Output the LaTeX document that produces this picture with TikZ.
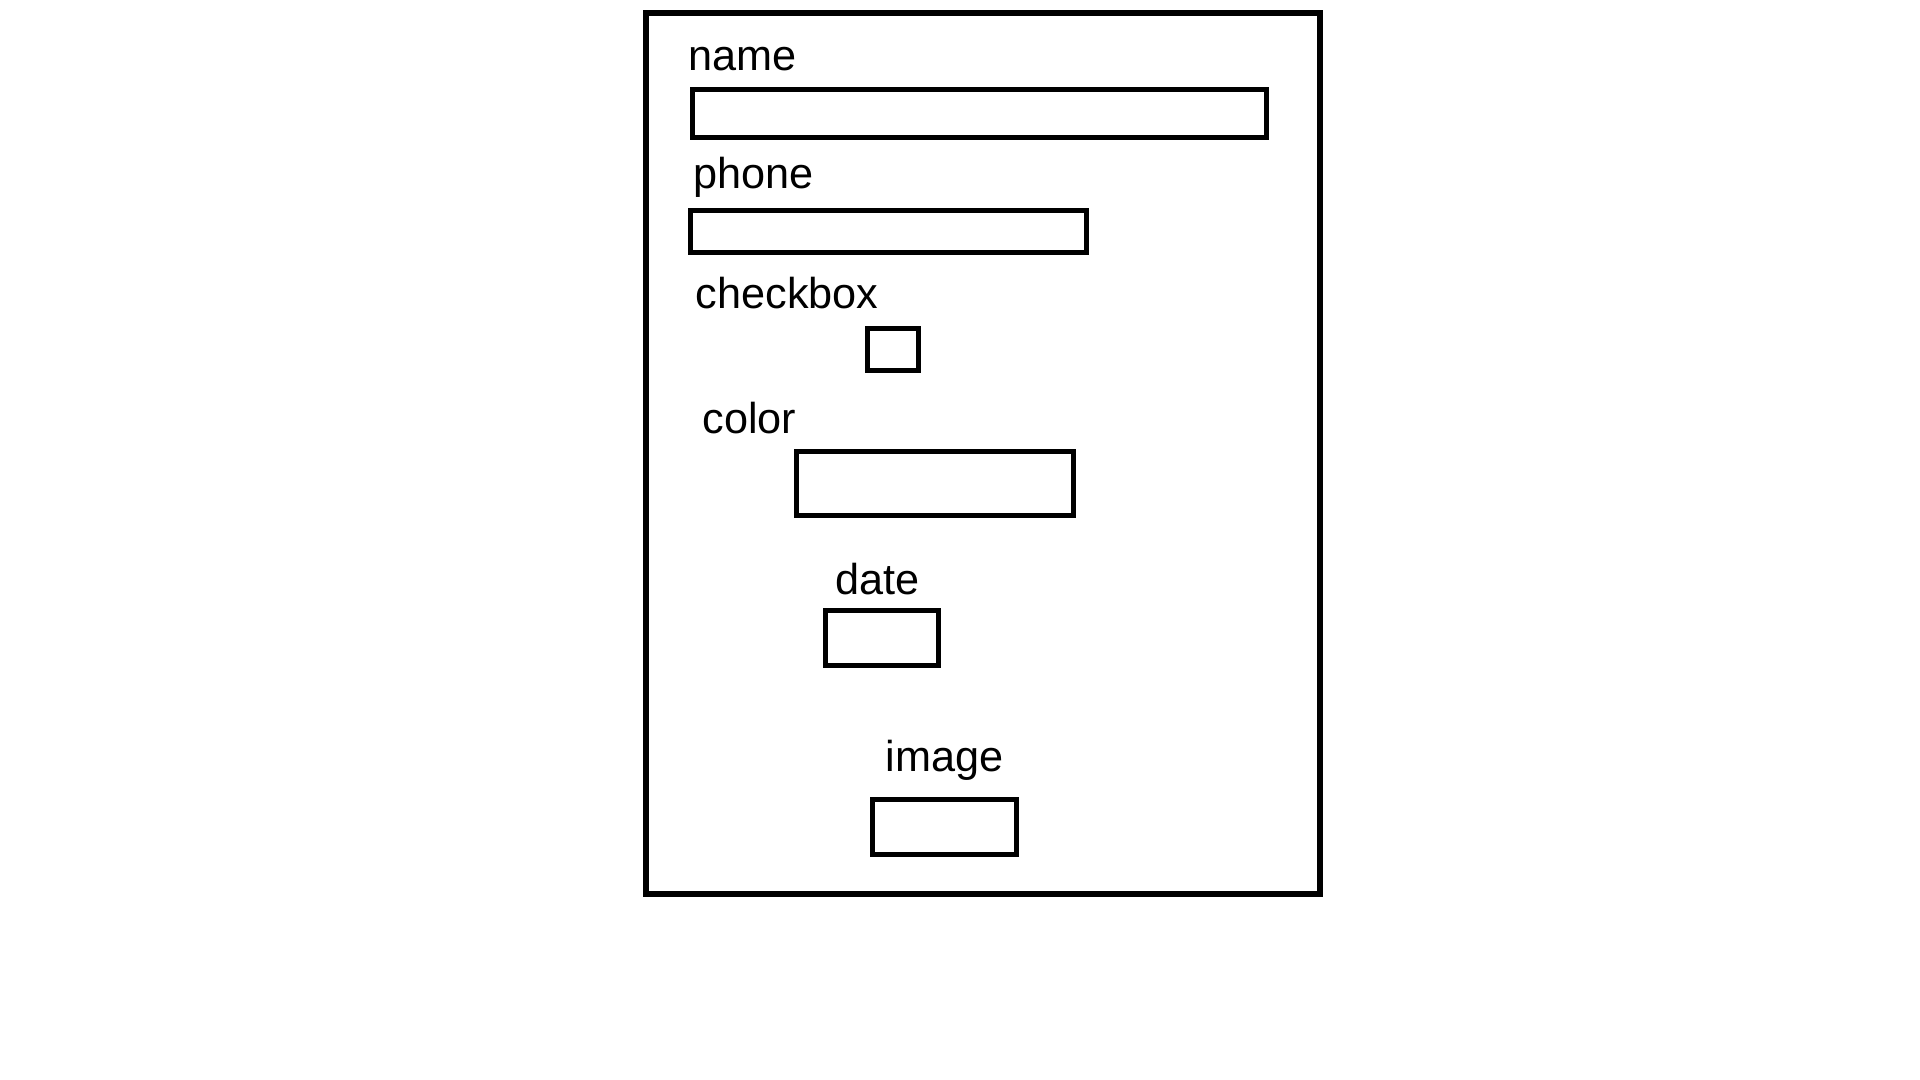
\documentclass[tikz,border=0pt]{standalone}
\usepackage{fontspec}
\setmainfont{Liberation Sans}
\usepackage{tikz}
\begin{document}
\begin{tikzpicture}[
  font=\fontsize{12.3}{15}\selectfont,
  field/.style={draw, line width=1.5pt, inner sep=0pt, anchor=north west},
  fieldlab/.style={inner sep=0pt, anchor=base west},
]
  \useasboundingbox (0,0) rectangle (19.2,-10.8);
  % outer form
  \draw[line width=1.8pt] (6.46,-0.13) rectangle (13.20,-8.94);
  % label position / box corner / box size
  \foreach \nm/\lx/\ly/\bx/\by/\bw/\bh in {
      name/6.88/-0.71/6.90/-0.87/5.74/0.48,
      phone/6.93/-1.89/6.88/-2.08/3.96/0.42,
      checkbox/6.95/-3.09/8.65/-3.26/0.51/0.42,
      color/7.02/-4.33/7.94/-4.49/2.77/0.64,
      date/8.35/-5.94/8.23/-6.08/1.13/0.55,
      image/8.85/-7.71/8.70/-7.97/1.44/0.55} {
    \node[fieldlab] (L\nm) at (\lx,\ly) {\nm};
    \node[field, minimum width=\bw cm, minimum height=\bh cm] (F\nm) at (\bx,\by) {};
  }
\end{tikzpicture}
\end{document}
